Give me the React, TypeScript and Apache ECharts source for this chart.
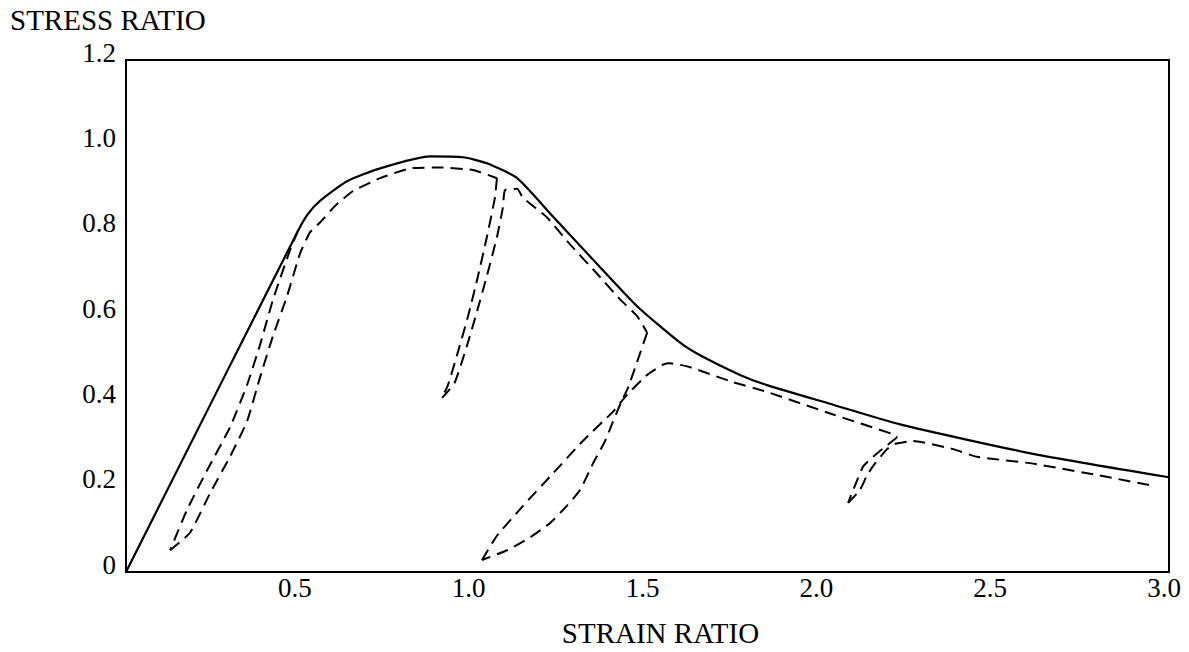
import React, { useEffect, useRef } from "react";
import * as echarts from "echarts";

// Envelope (monotonic loading) curve: [strain ratio, stress ratio]
const envelope: number[][] = [
  [0, 0], [0.495, 0.8], [0.523, 0.839], [0.558, 0.87], [0.636, 0.916], [0.731, 0.946],
  [0.874, 0.974], [0.969, 0.972], [1.038, 0.958], [1.125, 0.923], [1.228, 0.833],
  [1.363, 0.715], [1.47, 0.623], [1.593, 0.538], [1.651, 0.508], [1.766, 0.462],
  [1.844, 0.438], [2.034, 0.392], [2.226, 0.346], [2.609, 0.277], [3.0, 0.222],
];

// Cyclic (dashed) path, split into unloading / reloading branches
const unload1: number[][] = [
  [0.495, 0.801], [0.472, 0.755], [0.423, 0.639], [0.385, 0.531], [0.348, 0.438],
  [0.299, 0.339], [0.233, 0.238], [0.175, 0.145], [0.127, 0.051],
];
const reload1: number[][] = [
  [0.127, 0.051], [0.184, 0.092], [0.242, 0.185], [0.299, 0.27], [0.348, 0.353],
  [0.385, 0.455], [0.423, 0.554], [0.463, 0.646], [0.5, 0.745], [0.529, 0.796],
  [0.558, 0.819], [0.601, 0.858], [0.653, 0.893], [0.731, 0.923], [0.817, 0.946],
  [0.912, 0.948], [0.998, 0.942], [1.067, 0.923],
];
const unload2: number[][] = [
  [1.067, 0.923], [1.061, 0.877], [1.038, 0.785], [1.012, 0.692], [0.984, 0.6],
  [0.952, 0.508], [0.926, 0.438], [0.909, 0.408],
];
const reload2: number[][] = [
  [0.909, 0.408], [0.945, 0.443], [0.981, 0.531], [1.01, 0.612], [1.039, 0.697],
  [1.067, 0.785], [1.084, 0.854], [1.09, 0.895], [1.125, 0.898], [1.142, 0.877],
  [1.211, 0.831], [1.277, 0.768], [1.355, 0.699], [1.421, 0.639], [1.47, 0.6],
  [1.499, 0.561],
];
const unload3: number[][] = [
  [1.499, 0.561], [1.47, 0.492], [1.444, 0.432], [1.421, 0.392], [1.401, 0.353],
  [1.378, 0.307], [1.343, 0.254], [1.306, 0.192], [1.268, 0.155], [1.22, 0.115],
  [1.162, 0.081], [1.096, 0.051], [1.024, 0.028],
];
const reload3: number[][] = [
  [1.024, 0.028], [1.067, 0.085], [1.142, 0.155], [1.228, 0.231], [1.314, 0.307],
  [1.401, 0.376], [1.441, 0.415], [1.499, 0.462], [1.545, 0.486], [1.565, 0.489],
  [1.614, 0.482], [1.746, 0.445], [1.844, 0.422], [2.034, 0.369], [2.206, 0.323],
  [2.218, 0.316],
];
const unload4: number[][] = [
  [2.218, 0.316], [2.183, 0.293], [2.149, 0.27], [2.12, 0.247], [2.097, 0.203],
  [2.077, 0.162],
];
const reload4: number[][] = [
  [2.077, 0.162], [2.111, 0.192], [2.131, 0.226], [2.154, 0.254], [2.189, 0.288],
  [2.212, 0.3], [2.264, 0.307], [2.379, 0.288], [2.448, 0.27], [2.609, 0.254],
  [2.801, 0.226], [2.96, 0.201],
];

const xTitle = "STRAIN RATIO";
const yTitle = "STRESS RATIO";

const FONT = "Liberation Serif";

export default function App() {
  const ref = useRef<HTMLDivElement>(null);
  useEffect(() => {
    if (!ref.current) return;
    const chart = echarts.init(ref.current, undefined, { renderer: "svg" });
    const dashedBranches = [unload1, reload1, unload2, reload2, unload3, reload3, unload4, reload4];
    const dashedSeries = dashedBranches.map((d, i) => ({
      type: "line",
      name: "cycle" + i,
      data: d,
      showSymbol: false,
      smooth: 0.15,
      lineStyle: { color: "#000", width: 2, type: [12, 7] },
      z: 3,
    }));
    chart.setOption({
      animation: false,
      backgroundColor: "#fff",
      grid: {
        left: 126, right: 20, top: 60, bottom: 72,
        show: true, borderColor: "#000", borderWidth: 2,
      },
      xAxis: {
        type: "value",
        min: 0, max: 3, interval: 0.5,
        name: xTitle,
        nameLocation: "middle",
        nameGap: 46,
        nameTextStyle: { fontFamily: FONT, fontSize: 29, color: "#000", padding: [0, 0, 0, 26] },
        axisLine: { show: false },
        axisTick: { show: false },
        splitLine: { show: false },
        axisLabel: {
          fontFamily: FONT, fontSize: 27, color: "#000", margin: 2,
          padding: [0, 10, 0, 0],
          formatter: (v: number) => (v === 0 ? "" : v.toFixed(1)),
        },
      },
      yAxis: {
        type: "value",
        min: 0, max: 1.2, interval: 0.2,
        axisLine: { show: false },
        axisTick: { show: false },
        splitLine: { show: false },
        axisLabel: {
          fontFamily: FONT, fontSize: 27, color: "#000", margin: 10,
          verticalAlign: "bottom",
          lineHeight: 15,
          formatter: (v: number) => (v === 0 ? "0" : v.toFixed(1)),
        },
      },
      graphic: [
        {
          type: "text", left: 10, top: 5,
          style: { text: yTitle, fontFamily: FONT, fontSize: 29, fill: "#000" },
        },
      ],
      series: [
        {
          type: "line",
          name: "envelope",
          data: envelope,
          showSymbol: false,
          smooth: 0.2,
          lineStyle: { color: "#000", width: 2.2 },
          z: 4,
        },
        ...dashedSeries,
      ],
    });
    return () => chart.dispose();
  }, []);
  return (
    <div
      ref={ref}
      style={{ position: "fixed", left: 0, top: 0, width: 1189, height: 652, background: "#fff" }}
    />
  );
}
